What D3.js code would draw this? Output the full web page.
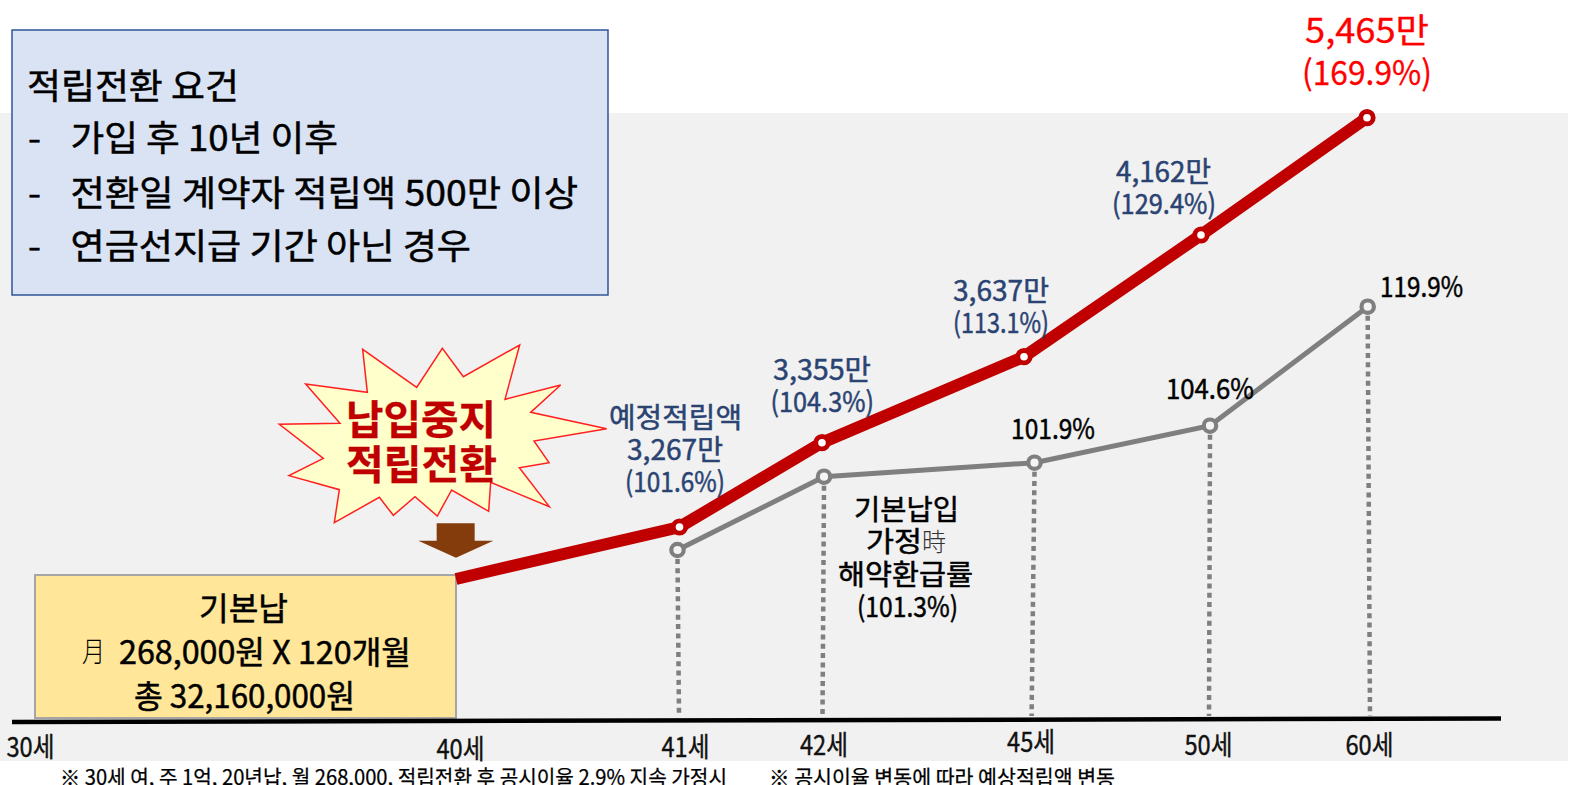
<!DOCTYPE html>
<html>
<head>
<meta charset="utf-8">
<script src="https://cdn.jsdelivr.net/npm/d3@7"></script>
<style>
  html, body { margin: 0; padding: 0; background: #fff; overflow: hidden; }
  svg { display: block; }
  text { font-family: "Noto Sans CJK KR", sans-serif; dominant-baseline: central; }
</style>
</head>
<body>
<div id="chart"></div>
<script>
// data
var tickAges = [30, 40, 41, 42, 45, 50, 60];
var reserveAges = [40, 41, 42, 45, 50, 60];
var reserveMan = [3216, 3267, 3355, 3637, 4162, 5465];
var reservePct = [100, 101.6, 104.3, 113.1, 129.4, 169.9];
var surrenderAges = [41, 42, 45, 50, 60];
var surrenderPct = [93, 101.3, 101.9, 104.6, 119.9];

var width = 1574, height = 785;

var svg = d3.select("#chart").append("svg")
  .attr("width", width)
  .attr("height", height);

// the original is a hand laid out slide, so every scale is piecewise
var xTick = d3.scaleLinear().domain(tickAges).range([30, 460, 685, 823.5, 1030.6, 1208, 1369]);
var xReserve = d3.scaleLinear().domain(reserveAges).range([456, 679.5, 822, 1024, 1201, 1367]);
var yReserve = d3.scaleLinear().domain(reserveMan).range([579, 527, 442.7, 356.7, 235, 117.7]);
var xSurrender = d3.scaleLinear().domain(surrenderAges).range([677.5, 824, 1034.5, 1210, 1367.7]);
var ySurrender = d3.scaleLinear().domain(surrenderPct).range([550, 476.7, 462.7, 425.7, 306.7]);
var xFoot = d3.scaleLinear().domain(surrenderAges).range([679, 822.5, 1031.6, 1209, 1370]);

var navy = "#2a4372", darkRed = "#c00000", grey = "#7f7f7f";

// text is squeezed to the measured width, the thin stroke gives the heavier look of the original
function label(parent, txt, x0, x1, cy, size, color, weight, thick) {
  return parent.append("text")
    .attr("x", x0)
    .attr("y", cy - 1.5)
    .attr("textLength", x1 - x0)
    .attr("lengthAdjust", "spacingAndGlyphs")
    .attr("font-size", size)
    .attr("font-weight", weight || 400)
    .attr("fill", color || "#000")
    .attr("stroke", color || "#000")
    .attr("stroke-width", thick === undefined ? 0.5 : thick)
    .text(txt);
}

// background band
svg.append("rect")
  .attr("x", 0).attr("y", 113)
  .attr("width", 1568).attr("height", 648)
  .attr("fill", "#f1f1f1");

// requirement box
svg.append("rect")
  .attr("x", 12).attr("y", 30)
  .attr("width", 596).attr("height", 265)
  .attr("fill", "#dae3f3")
  .attr("stroke", "#2f5597")
  .attr("stroke-width", 1.5);

label(svg, "적립전환 요건", 27, 239, 85, 35);
[["가입 후 10년 이후", 338, 137], ["전환일 계약자 적립액 500만 이상", 578, 192], ["연금선지급 기간 아닌 경우", 471, 245]]
  .forEach(function(d) {
    label(svg, "-", 28, 41, d[2], 32);
    label(svg, d[0], 70.5, d[1], d[2], 35);
  });

// base payment box
svg.append("rect")
  .attr("x", 35).attr("y", 575)
  .attr("width", 421).attr("height", 143)
  .attr("fill", "#ffe699")
  .attr("stroke", "#a5a5a5")
  .attr("stroke-width", 2);

label(svg, "기본납", 199, 288, 607, 32);
label(svg, "月", 82, 105, 651, 28, "#000", 300, 0);
label(svg, "268,000원 X 120개월", 119, 411, 651, 32);
label(svg, "총 32,160,000원", 134, 355, 695, 32);

// baseline
svg.append("line")
  .attr("x1", 12).attr("y1", 722)
  .attr("x2", 1501).attr("y2", 718.5)
  .attr("stroke", "#000")
  .attr("stroke-width", 4.5);

// drop lines
var surrenderData = surrenderAges.map(function(a, i) { return {age: a, pct: surrenderPct[i]}; });
svg.selectAll(".drop")
  .data(surrenderData)
  .enter().append("line")
    .attr("class", "drop")
    .attr("x1", function(d) { return xSurrender(d.age); })
    .attr("y1", function(d) { return ySurrender(d.pct) + 9; })
    .attr("x2", function(d) { return xFoot(d.age); })
    .attr("y2", 716)
    .attr("stroke", grey)
    .attr("stroke-width", 4.5)
    .attr("stroke-dasharray", "5 4.3");

// x labels, nudged because they sit unevenly in the original
var tickNudge = {30: 2, 40: 4, 41: 2, 42: 0, 45: -3, 50: 0, 60: 0};
var axis = svg.append("g")
  .attr("transform", "translate(0,743)")
  .call(d3.axisBottom(xTick).tickValues(tickAges).tickSize(0).tickFormat(function(d) { return d + "세"; }));
axis.select(".domain").remove();
axis.selectAll("text")
  .attr("y", function(d) { return tickNudge[d]; })
  .attr("dy", 0)
  .attr("font-size", 27)
  .attr("font-family", '"Noto Sans CJK KR", sans-serif')
  .attr("fill", "#111")
  .attr("stroke", "#111")
  .attr("stroke-width", 0.4)
  .attr("textLength", 48)
  .attr("lengthAdjust", "spacingAndGlyphs");

// surrender line
var surrenderLine = d3.line()
  .x(function(d) { return xSurrender(d.age); })
  .y(function(d) { return ySurrender(d.pct); });
svg.append("path")
  .attr("d", surrenderLine(surrenderData))
  .attr("fill", "none")
  .attr("stroke", grey)
  .attr("stroke-width", 5);
svg.selectAll(".grey-dot")
  .data(surrenderData)
  .enter().append("circle")
    .attr("class", "grey-dot")
    .attr("cx", function(d) { return xSurrender(d.age); })
    .attr("cy", function(d) { return ySurrender(d.pct); })
    .attr("r", 6.2)
    .attr("fill", "#f4f4f4")
    .attr("stroke", grey)
    .attr("stroke-width", 4.2);

// reserve line
var reserveLine = d3.line()
  .x(function(d) { return xReserve(d.age); })
  .y(function(d) { return yReserve(d.man); });
var reserveData = reserveAges.map(function(a, i) { return {age: a, man: reserveMan[i]}; });
svg.append("path")
  .attr("d", reserveLine(reserveData))
  .attr("fill", "none")
  .attr("stroke", darkRed)
  .attr("stroke-width", 12);
svg.selectAll(".red-dot")
  .data(reserveData.slice(1))
  .enter().append("circle")
    .attr("class", "red-dot")
    .attr("cx", function(d) { return xReserve(d.age); })
    .attr("cy", function(d) { return yReserve(d.man); })
    .attr("r", 6.2)
    .attr("fill", "#fff")
    .attr("stroke", darkRed)
    .attr("stroke-width", 4.8);

// burst shape
var burst = [[308,43],[322,172],[137,147],[240,265],[58,268],[190,370],[87,422],[238,464],[223,563],[358,487],[400,541],[465,485],[532,543],[575,465],[686,529],[692,442],[868,515],[778,398],[867,383],[822,318],[1040,281],[812,232],[902,150],[735,193],[779,30],[610,125],[547,40],[470,157]];
var shapeX = d3.scaleLinear().domain([0, 1050]).range([260, 610]);
var shapeY = d3.scaleLinear().domain([0, 720]).range([335, 575]);
function traced(pts) {
  return pts.map(function(p) { return shapeX(p[0]) + "," + shapeY(p[1]); }).join(" ");
}
svg.append("polygon")
  .attr("points", traced(burst))
  .attr("fill", "#ffffcc")
  .attr("stroke", "#ff2020")
  .attr("stroke-width", 1.5);
label(svg, "납입중지", 346, 496, 418, 40, darkRed, 700, 0.3);
label(svg, "적립전환", 346, 497, 463, 40, darkRed, 700, 0.3);

var arrow = [[530,565],[644,565],[644,617],[700,617],[588,668],[475,617],[530,617]];
svg.append("polygon")
  .attr("points", traced(arrow))
  .attr("fill", "#843c0c");

// value labels
var fmt = d3.format(",");
function man(i) { return fmt(reserveMan[i]) + "만"; }
function pct(v) { return "(" + v.toFixed(1) + "%)"; }

label(svg, "예정적립액", 609, 742, 417, 28, navy);
label(svg, man(1), 627, 723, 449, 28, navy);
label(svg, pct(reservePct[1]), 625, 725, 481, 28, navy);
label(svg, man(2), 773, 871, 369, 28, navy);
label(svg, pct(reservePct[2]), 770.5, 874, 401, 28, navy);
label(svg, man(3), 953, 1049, 290, 28, navy);
label(svg, pct(reservePct[3]), 953, 1049, 322, 28, navy);
label(svg, man(4), 1116, 1211, 171, 28, navy);
label(svg, pct(reservePct[4]), 1112, 1216, 203, 28, navy);
label(svg, man(5), 1305, 1429, 30, 34, "#ff0000", 400, 0.3);
label(svg, pct(reservePct[5]), 1302, 1432, 72, 34, "#ff0000", 400, 0.3);

label(svg, surrenderPct[4].toFixed(1) + "%", 1380, 1463, 286, 28);
label(svg, surrenderPct[3].toFixed(1) + "%", 1166, 1254, 388, 28);
label(svg, surrenderPct[2].toFixed(1) + "%", 1011, 1095, 428, 28);

label(svg, "기본납입", 854, 959, 509, 28);
label(svg, "가정", 866, 922, 541, 28);
label(svg, "時", 922, 946, 541, 25, "#333", 300, 0);
label(svg, "해약환급률", 838, 973, 574, 28);
label(svg, pct(surrenderPct[1]), 857, 958, 606, 28);

// foot notes
label(svg, "※ 30세 여, 주 1억, 20년납, 월 268,000, 적립전환 후 공시이율 2.9% 지속 가정시", 60, 727, 777, 21, "#000", 400, 0.25);
label(svg, "※ 공시이율 변동에 따라 예상적립액 변동", 769, 1115, 777, 21, "#000", 400, 0.25);
</script>
</body>
</html>
